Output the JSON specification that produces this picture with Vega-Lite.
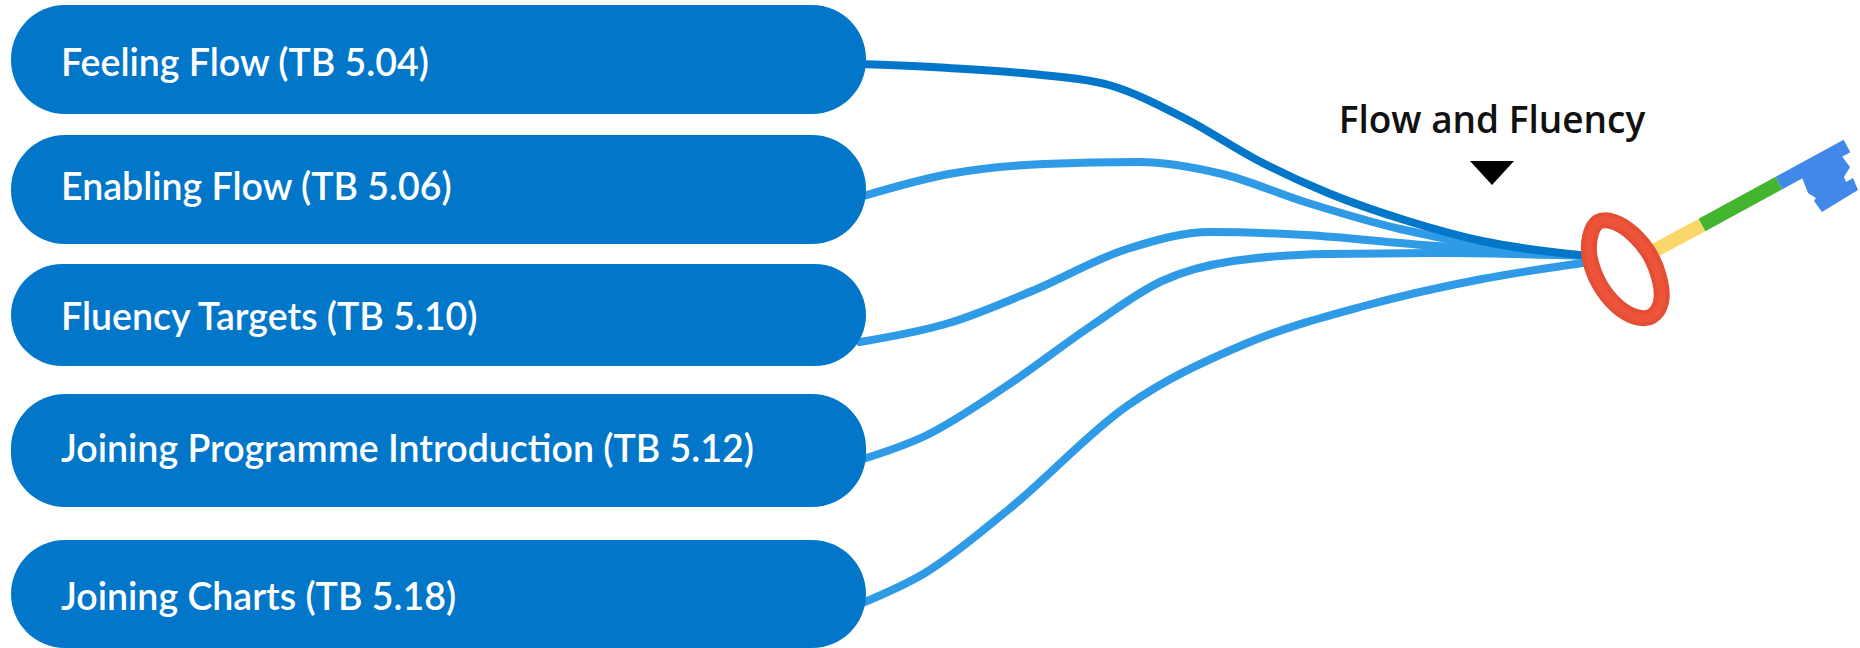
{
"$schema":"https://vega.github.io/schema/vega-lite/v6.json",
"width":1860,"height":648,"padding":0,
"autosize":{"type":"none"},
"background":"white",
"config":{"view":{"stroke":null}},
"datasets":{
"pills":[
{"label":"Feeling Flow (TB 5.04)","x0":11,"x1":866,"y0":5,"y1":114,"ym":65,"tx":61},
{"label":"Enabling Flow (TB 5.06)","x0":11,"x1":866,"y0":135,"y1":244,"ym":189,"tx":61},
{"label":"Fluency Targets (TB 5.10)","x0":11,"x1":866,"y0":264,"y1":366,"ym":319,"tx":61},
{"label":"Joining Programme Introduction (TB 5.12)","x0":11,"x1":866,"y0":394,"y1":507,"ym":451,"tx":61},
{"label":"Joining Charts (TB 5.18)","x0":11,"x1":866,"y0":540,"y1":648,"ym":599,"tx":61}
],
"links":[
{"s":"Joining Charts","i":0,"x":860,"y":604},{"s":"Joining Charts","i":1,"x":925,"y":573},{"s":"Joining Charts","i":2,"x":1008,"y":510},{"s":"Joining Charts","i":3,"x":1127,"y":406},{"s":"Joining Charts","i":4,"x":1245,"y":344},{"s":"Joining Charts","i":5,"x":1364,"y":306},{"s":"Joining Charts","i":6,"x":1482,"y":279},{"s":"Joining Charts","i":7,"x":1590,"y":262},
{"s":"Joining Programme","i":0,"x":860,"y":460},{"s":"Joining Programme","i":1,"x":925,"y":436},{"s":"Joining Programme","i":2,"x":1008,"y":385},{"s":"Joining Programme","i":3,"x":1091,"y":326},{"s":"Joining Programme","i":4,"x":1162,"y":281},{"s":"Joining Programme","i":5,"x":1233,"y":261},{"s":"Joining Programme","i":6,"x":1328,"y":254},{"s":"Joining Programme","i":7,"x":1447,"y":253},{"s":"Joining Programme","i":8,"x":1590,"y":256},
{"s":"Fluency Targets","i":0,"x":860,"y":342},{"s":"Fluency Targets","i":1,"x":949,"y":323},{"s":"Fluency Targets","i":2,"x":1032,"y":291},{"s":"Fluency Targets","i":3,"x":1127,"y":249},{"s":"Fluency Targets","i":4,"x":1210,"y":232},{"s":"Fluency Targets","i":5,"x":1305,"y":235},{"s":"Fluency Targets","i":6,"x":1423,"y":245},{"s":"Fluency Targets","i":7,"x":1590,"y":256},
{"s":"Enabling Flow","i":0,"x":860,"y":197},{"s":"Enabling Flow","i":1,"x":949,"y":174},{"s":"Enabling Flow","i":2,"x":1044,"y":164},{"s":"Enabling Flow","i":3,"x":1139,"y":162},{"s":"Enabling Flow","i":4,"x":1222,"y":174},{"s":"Enabling Flow","i":5,"x":1305,"y":202},{"s":"Enabling Flow","i":6,"x":1400,"y":229},{"s":"Enabling Flow","i":7,"x":1482,"y":245},{"s":"Enabling Flow","i":8,"x":1590,"y":256},
{"s":"Feeling Flow","i":0,"x":860,"y":64},{"s":"Feeling Flow","i":1,"x":949,"y":68},{"s":"Feeling Flow","i":2,"x":1032,"y":74},{"s":"Feeling Flow","i":3,"x":1109,"y":85},{"s":"Feeling Flow","i":4,"x":1186,"y":119},{"s":"Feeling Flow","i":5,"x":1257,"y":160},{"s":"Feeling Flow","i":6,"x":1328,"y":193},{"s":"Feeling Flow","i":7,"x":1411,"y":222},{"s":"Feeling Flow","i":8,"x":1482,"y":241},{"s":"Feeling Flow","i":9,"x":1590,"y":256}
],
"shaft":[
{"part":"yellow","i":0,"x":1650,"y":253},{"part":"yellow","i":1,"x":1702,"y":225},
{"part":"green","i":0,"x":1702,"y":225},{"part":"green","i":1,"x":1779,"y":183},
{"part":"blue","i":0,"x":1779,"y":183},{"part":"blue","i":1,"x":1847,"y":146}
],
"bit":[{"x":1830,"y":187}],
"ring":[
{"i":0,"x":1652,"y":316},{"i":1,"x":1661,"y":302},{"i":2,"x":1660,"y":281},{"i":3,"x":1650,"y":255},{"i":4,"x":1633,"y":234},{"i":5,"x":1614,"y":222},{"i":6,"x":1598,"y":222},{"i":7,"x":1590,"y":237},{"i":8,"x":1590,"y":259},{"i":9,"x":1600,"y":285},{"i":10,"x":1617,"y":306},{"i":11,"x":1636,"y":317}
],
"note":[{"label":"Flow and Fluency","x":1492,"y":122,"ty":173}]
},
"encoding":{
"x":{"field":"x","type":"quantitative","axis":null,"scale":{"domain":[0,1860],"nice":false,"zero":false}},
"y":{"field":"y","type":"quantitative","axis":null,"scale":{"domain":[648,0],"nice":false,"zero":false}}
},
"resolve":{"scale":{"color":"independent"}},
"layer":[
{"data":{"name":"links"},"mark":{"type":"line","interpolate":"monotone","strokeWidth":8,"strokeCap":"round"},
 "encoding":{"order":{"field":"i","type":"quantitative"},
 "detail":{"field":"s"},
 "color":{"field":"s","type":"nominal","legend":null,"scale":{"domain":["Joining Charts","Joining Programme","Fluency Targets","Enabling Flow","Feeling Flow"],"range":["#2f9be6","#2f9be6","#2f9be6","#2f9be6","#0277c9"]}}}},
{"data":{"name":"pills"},"mark":{"type":"rect","color":"#0277c9","cornerRadius":54},
 "encoding":{"x":{"field":"x0","type":"quantitative"},"x2":{"field":"x1"},"y":{"field":"y0","type":"quantitative"},"y2":{"field":"y1"}}},
{"data":{"name":"pills"},"mark":{"type":"text","align":"left","baseline":"middle","color":"white","font":"Lato","fontSize":37.5,"fontWeight":600},
 "encoding":{"x":{"field":"tx","type":"quantitative"},"y":{"field":"ym","type":"quantitative"},"text":{"field":"label"}}},
{"data":{"name":"shaft"},"mark":{"type":"line","strokeCap":"butt","strokeWidth":14},
 "encoding":{"order":{"field":"i","type":"quantitative"},"detail":{"field":"part"},
 "color":{"field":"part","type":"nominal","legend":null,"scale":{"domain":["yellow","green","blue"],"range":["#fbd76a","#43b52e","#4188e8"]}}}},
{"data":{"name":"bit"},"mark":{"type":"point","filled":true,"color":"#4188e8","opacity":1,"size":4,"shape":"M-29,-12L-22,6L-14,11L-16,14L-8,25L28,3L23,-9L16,-5L14,-10L20,-20L11,-32Z"}},
{"data":{"name":"ring"},"mark":{"type":"line","interpolate":"cardinal-closed","strokeWidth":16,"color":"#e44e34"},
 "encoding":{"order":{"field":"i","type":"quantitative"}}},
{"data":{"name":"ring"},"mark":{"type":"line","interpolate":"cardinal-closed","strokeWidth":8,"color":"#ec5339"},
 "encoding":{"order":{"field":"i","type":"quantitative"}}},
{"data":{"name":"note"},"mark":{"type":"text","align":"center","baseline":"middle","color":"#111111","font":"Open Sans","fontSize":37,"fontWeight":600},
 "encoding":{"text":{"field":"label"}}},
{"data":{"name":"note"},"mark":{"type":"point","filled":true,"color":"black","opacity":1,"shape":"M-1,-0.55L1,-0.55L0,0.55Z","size":1936},
 "encoding":{"y":{"field":"ty","type":"quantitative"}}}
]
}
